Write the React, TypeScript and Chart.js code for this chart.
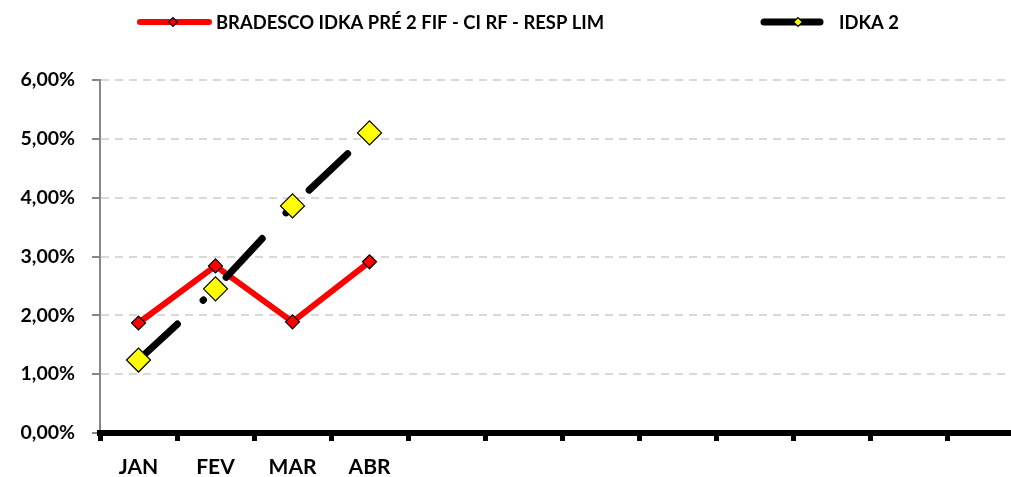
import React, { useEffect, useRef } from 'react';
import { Chart, registerables } from 'chart.js';

Chart.register(...registerables);

const categories = ['JAN', 'FEV', 'MAR', 'ABR', '', '', '', '', '', '', '', ''];
const bradescoValues = [1.87, 2.84, 1.89, 2.91, null, null, null, null, null, null, null, null];
const idkaValues = [1.24, 2.45, 3.86, 5.1, null, null, null, null, null, null, null, null];
const yTickValues = [0, 1, 2, 3, 4, 5, 6];
const seriesNames = ['BRADESCO IDKA PRÉ 2 FIF - CI RF - RESP LIM', 'IDKA 2'];

const FONT = 'Lato';

const fmtPct = (v: number) => v.toFixed(2).replace('.', ',') + '%';

const drawDiamond = (ctx: CanvasRenderingContext2D, x: number, y: number, r: number, fill: string) => {
  ctx.beginPath();
  ctx.moveTo(x - r, y);
  ctx.lineTo(x, y - r);
  ctx.lineTo(x + r, y);
  ctx.lineTo(x, y + r);
  ctx.closePath();
  ctx.fillStyle = fill;
  ctx.fill();
  ctx.lineWidth = 1.2;
  ctx.strokeStyle = '#000';
  ctx.stroke();
};

const legendPlugin = {
  id: 'customLegend',
  afterDraw(chart: any) {
    const ctx = chart.ctx as CanvasRenderingContext2D;
    const y = 22;
    const items = [
      { ds: 0, x0: 140, x1: 209, mx: 173, mr: 4.5, lw: 6, tx: 216 },
      { ds: 1, x0: 764, x1: 820, mx: 798, mr: 4.5, lw: 7, tx: 839 },
    ];
    items.forEach((it) => {
      const ds = chart.data.datasets[it.ds];
      ctx.save();
      ctx.strokeStyle = ds.borderColor;
      ctx.lineWidth = it.lw;
      ctx.lineCap = 'round';
      ctx.beginPath();
      ctx.moveTo(it.x0, y);
      ctx.lineTo(it.x1, y);
      ctx.stroke();
      drawDiamond(ctx, it.mx, y, it.mr, ds.pointBackgroundColor);
      ctx.fillStyle = '#000';
      ctx.font = `bold 18.4px ${FONT}`;
      ctx.textBaseline = 'middle';
      ctx.textAlign = 'left';
      ctx.fillText(ds.label, it.tx, y + 1);
      ctx.restore();
    });
  },
};

const axisLinePlugin = {
  id: 'axisLine',
  beforeDatasetsDraw(chart: any) {
    const { ctx, scales } = chart;
    const py = scales.y.getPixelForValue(0);
    ctx.save();
    ctx.strokeStyle = '#000';
    ctx.lineWidth = 6;
    ctx.beginPath();
    ctx.moveTo(scales.x.left - 3, py);
    ctx.lineTo(scales.x.right + 3, py);
    ctx.stroke();
    ctx.restore();
  },
};

export default function App() {
  const ref = useRef<HTMLCanvasElement | null>(null);

  useEffect(() => {
    if (!ref.current) return;
    const chart = new Chart(ref.current, {
      type: 'line',
      data: {
        labels: categories,
        datasets: [
          {
            label: seriesNames[0],
            data: bradescoValues,
            borderColor: '#ff0000',
            borderWidth: 6,
            pointStyle: 'rectRot',
            pointRadius: 7,
            pointBackgroundColor: '#ff0000',
            pointBorderColor: '#000',
            pointBorderWidth: 1.2,
            tension: 0,
            order: 1,
          },
          {
            label: seriesNames[1],
            data: idkaValues,
            borderColor: '#000000',
            borderWidth: 7,
            borderDash: [53, 35, 0.5, 32],
            borderCapStyle: 'round',
            pointStyle: 'rectRot',
            pointRadius: 12,
            pointBackgroundColor: '#ffff00',
            pointBorderColor: '#000',
            pointBorderWidth: 1.2,
            tension: 0,
            order: 0,
          },
        ],
      },
      options: {
        responsive: false,
        animation: false,
        events: [],
        layout: { padding: { top: 80, right: 16, left: 0, bottom: 0 } },
        plugins: {
          legend: { display: false },
          tooltip: { enabled: false },
          title: { display: false },
        },
        scales: {
          x: {
            type: 'category',
            offset: true,
            grid: {
              offset: true,
              display: true,
              drawOnChartArea: false,
              drawTicks: true,
              tickLength: 8,
              tickWidth: 5,
              tickColor: '#000',
              color: '#000',
              lineWidth: 5,
            },
            border: { display: false },
            ticks: {
              autoSkip: false,
              maxRotation: 0,
              minRotation: 0,
              color: '#000',
              padding: 14,
              font: { family: FONT, size: 21, weight: 'bold' },
            },
            afterFit: (s: any) => {
              s.height = 44;
            },
          },
          y: {
            min: 0,
            max: 6,
            afterBuildTicks: (s: any) => {
              s.ticks = yTickValues.map((v) => ({ value: v }));
            },
            ticks: {
              color: '#000',
              padding: 17,
              font: { family: FONT, size: 19.5, weight: 'bold' },
              callback: (v: any) => fmtPct(Number(v)),
            },
            grid: {
              color: '#d9d9d9',
              lineWidth: 2,
              tickColor: '#868686',
              tickLength: 8,
              tickWidth: 2,
            },
            border: { display: true, color: '#868686', width: 2, dash: [8, 6] },
            afterFit: (s: any) => {
              s.width = 100;
            },
          },
        },
      },
      plugins: [axisLinePlugin, legendPlugin],
    });
    return () => chart.destroy();
  }, []);

  return (
    <div
      style={{
        position: 'fixed',
        left: 0,
        top: 0,
        width: 1011,
        height: 477,
        overflow: 'hidden',
        background: '#fff',
      }}
    >
      <canvas ref={ref} width={1040} height={477} style={{ display: 'block' }} />
    </div>
  );
}
